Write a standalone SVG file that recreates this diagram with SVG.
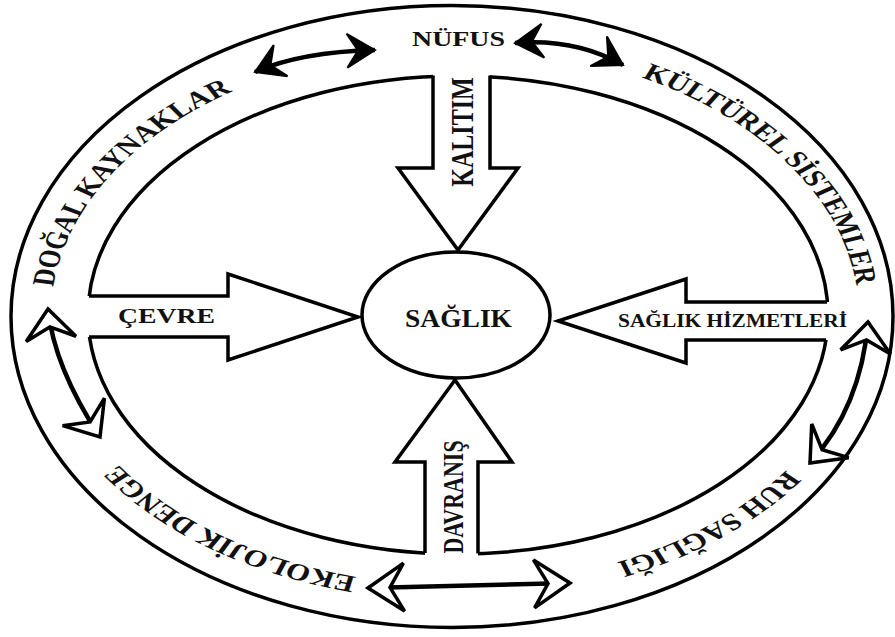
<svg xmlns="http://www.w3.org/2000/svg" width="895" height="637" viewBox="0 0 895 637">
<style>
.ln{fill:none;stroke:#000;stroke-width:3.5;stroke-linejoin:miter;stroke-miterlimit:10}
.wf{fill:#fff;stroke:none}
.t{font-family:"Liberation Serif","Times New Roman",serif;font-weight:bold;fill:#111}
.con{fill:none;stroke:#000;stroke-width:4.5}
</style>
<defs>
<path id="ring" d="M 39.2 316 A 310.8 269 0 1 1 660.8 316 A 310.8 269 0 1 1 39.2 316"/>
<marker id="mf" markerUnits="userSpaceOnUse" orient="auto-start-reverse" refX="0" refY="0" markerWidth="60" markerHeight="60" overflow="visible">
<path d="M0,0 L-28,-17 L-17,0 L-28,17 Z" fill="#000" stroke="#000" stroke-width="2" stroke-linejoin="miter"/>
</marker>
<marker id="ms" markerUnits="userSpaceOnUse" orient="auto-start-reverse" refX="0" refY="0" markerWidth="60" markerHeight="60" overflow="visible">
<path d="M0,0 L-30,-25 L-18,0 L-30,25 Z" fill="#fff" stroke="#000" stroke-width="3.5" stroke-linejoin="miter"/>
</marker>
<marker id="ml" markerUnits="userSpaceOnUse" orient="auto-start-reverse" refX="0" refY="0" markerWidth="60" markerHeight="60" overflow="visible">
<path d="M0,0 L-36,-24 L-22,0 L-36,24 Z" fill="#fff" stroke="#000" stroke-width="3.5" stroke-linejoin="miter"/>
</marker>
</defs>
<rect width="895" height="637" fill="#fff"/>

<g id="rings">
<ellipse cx="452" cy="316.5" rx="441" ry="311" class="ln"/>
<ellipse cx="458" cy="315" rx="370" ry="239" class="ln"/>
</g>

<g id="kalitim">
<polygon class="wf" points="433,66 433,168 398,168 458,250 518,168 490,168 490,66"/>
<polyline class="ln" points="433,75.5 433,168 398,168 458,250 518,168 490,168 490,75.5"/>
<text class="t" font-size="24" text-anchor="middle" transform="translate(473,132) scale(1.3,1) rotate(-90)">KALITIM</text>
</g>

<g id="cevre">
<polygon class="wf" points="80,296 228,296 228,274 358,317 228,360 228,337 80,337"/>
<polyline class="ln" points="89,296 228,296 228,274 358,317 228,360 228,337 89,337"/>
<text class="t" x="118" y="323" font-size="21" textLength="97" lengthAdjust="spacingAndGlyphs">ÇEVRE</text>
</g>

<g id="saglik-hizmetleri">
<polygon class="wf" points="836,302 686,302 686,279 558,321 686,363 686,340 836,340"/>
<polyline class="ln" points="827,302 686,302 686,279 558,321 686,363 686,340 826,340"/>
<text class="t" x="618" y="327" font-size="18" textLength="229" lengthAdjust="spacingAndGlyphs">SAĞLIK HİZMETLERİ</text>
</g>

<g id="davranis">
<polygon class="wf" points="425,562 425,462 395,462 455,380 512,462 478,462 478,562"/>
<polyline class="ln" points="425,553 425,462 395,462 455,380 512,462 478,462 478,553.5"/>
<text class="t" font-size="22" text-anchor="middle" transform="translate(463,497) scale(1.3,1) rotate(-90)">DAVRANIŞ</text>
</g>

<g id="saglik">
<ellipse cx="456" cy="315" rx="94" ry="63" class="ln" fill="#fff"/>
<text class="t" x="405" y="327" font-size="25" textLength="107" lengthAdjust="spacingAndGlyphs">SAĞLIK</text>
</g>

<g id="nufus">
<text class="t" x="412" y="46" font-size="21" textLength="93" lengthAdjust="spacingAndGlyphs">NÜFUS</text>
</g>

<g class="t" font-size="24" transform="scale(1.3,1)">
<g id="dogal-kaynaklar"><text text-anchor="middle"><textPath href="#ring" startOffset="8.4%">DOĞAL KAYNAKLAR</textPath></text></g>
<g id="kulturel-sistemler"><text text-anchor="middle"><textPath href="#ring" startOffset="40.7%">KÜLTÜREL SİSTEMLER</textPath></text></g>
<g id="ruh-sagligi"><text text-anchor="middle"><textPath href="#ring" startOffset="63.6%">RUH SAĞLIĞI</textPath></text></g>
<g id="ekolojik-denge"><text text-anchor="middle"><textPath href="#ring" startOffset="85.2%">EKOLOJİK DENGE</textPath></text></g>
</g>

<g id="connectors">
<path class="con" d="M 255 72 Q 300 52 375 50" marker-start="url(#mf)" marker-end="url(#mf)"/>
<path class="con" d="M 515 43 Q 575 38 623 65" marker-start="url(#mf)" marker-end="url(#mf)"/>
<path class="con" d="M 48 309 Q 54 367 100 437" marker-start="url(#ms)" marker-end="url(#ms)"/>
<path class="con" d="M 868 322 Q 861 407 810 463" marker-start="url(#ms)" marker-end="url(#ms)"/>
<path class="con" stroke-width="5" d="M 368 588 L 570 583" marker-start="url(#ml)" marker-end="url(#ml)"/>
</g>
</svg>
